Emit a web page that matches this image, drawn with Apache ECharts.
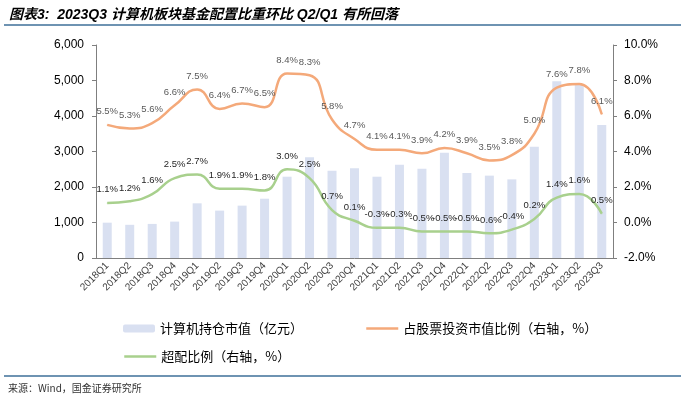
<!DOCTYPE html>
<html>
<head>
<meta charset="utf-8">
<script src="https://cdn.jsdelivr.net/npm/echarts@6/dist/echarts.min.js"></script>
<style>
  html, body { margin: 0; padding: 0; background: #fff; }
  #main { width: 683px; height: 397px; }
</style>
</head>
<body>
<div id="main"></div>
<script>
// 季度
var quarters = ['2018Q1','2018Q2','2018Q3','2018Q4','2019Q1','2019Q2','2019Q3','2019Q4',
  '2020Q1','2020Q2','2020Q3','2020Q4','2021Q1','2021Q2','2021Q3','2021Q4',
  '2022Q1','2022Q2','2022Q3','2022Q4','2023Q1','2023Q2','2023Q3'];
// 计算机持仓市值（亿元）
var holdValue = [995, 935, 960, 1025, 1540, 1335, 1475, 1670,
  2290, 2840, 2460, 2530, 2290, 2630, 2515, 2965,
  2395, 2320, 2215, 3135, 4980, 4870, 3750];
// 占股票投资市值比例（%）
var stockRatio = [5.5, 5.3, 5.6, 6.6, 7.5, 6.4, 6.7, 6.5,
  8.4, 8.3, 5.8, 4.7, 4.1, 4.1, 3.9, 4.2,
  3.9, 3.5, 3.8, 5.0, 7.6, 7.8, 6.1];
// 超配比例（%）
var overRatio = [1.1, 1.2, 1.6, 2.5, 2.7, 1.9, 1.9, 1.8,
  3.0, 2.5, 0.7, 0.1, -0.3, -0.3, -0.5, -0.5,
  -0.5, -0.6, -0.4, 0.2, 1.4, 1.6, 0.5];
var leftTicks = [0, 6000, 1000];
var rightTicks = [-2, 10, 2];

var FONT = '"Liberation Sans", Arial, "Noto Sans CJK SC", sans-serif';
var CJK = '"Noto Sans CJK SC", sans-serif';
var chart = echarts.init(document.getElementById('main'));

var pct = function(p){ return p.value.toFixed(1) + '%'; };
var legendText = { fontSize: 13, color: '#000', fontFamily: CJK };

chart.setOption({
  animation: false,
  textStyle: { fontFamily: FONT },
  title: {
    text: '图表3:  2023Q3 计算机板块基金配置比重环比 Q2/Q1 有所回落',
    left: 4, top: 3,
    textStyle: { fontSize: 14, fontWeight: 'bold', fontStyle: 'italic', color: '#000', fontFamily: FONT }
  },
  graphic: [
    { type: 'line', shape: { x1: 4, y1: 25, x2: 681, y2: 25 }, style: { stroke: '#3e6f99', lineWidth: 1.5 } },
    { type: 'line', shape: { x1: 4, y1: 376, x2: 681, y2: 376 }, style: { stroke: '#3e6f99', lineWidth: 1.5 } },
    { type: 'text', left: 8, top: 383, style: { text: '来源：Wind，国金证券研究所', fontSize: 10, fill: '#333', fontFamily: CJK } }
  ],
  grid: { left: 96, right: 70, top: 45, bottom: 139 },
  legend: [
    { data: ['计算机持仓市值（亿元）'], left: 118, top: 317, itemWidth: 32, itemHeight: 8, textStyle: legendText },
    { data: ['占股票投资市值比例（右轴，%）'], left: 360, top: 317, itemWidth: 32, itemHeight: 8,
      itemStyle: { opacity: 0 }, lineStyle: { width: 2.5 }, textStyle: legendText },
    { data: ['超配比例（右轴，%）'], left: 118, top: 345, itemWidth: 32, itemHeight: 8,
      itemStyle: { opacity: 0 }, lineStyle: { width: 2.5 }, textStyle: legendText }
  ],
  xAxis: {
    type: 'category',
    data: quarters,
    axisLine: { lineStyle: { color: '#7f7f7f' } },
    axisTick: { show: false },
    axisLabel: { interval: 0, rotate: 45, fontSize: 10, color: '#404040', margin: 6 }
  },
  yAxis: [
    {
      type: 'value', min: leftTicks[0], max: leftTicks[1], interval: leftTicks[2],
      splitLine: { show: false },
      axisLine: { show: true, lineStyle: { color: '#7f7f7f' } },
      axisTick: { show: true, length: 4, lineStyle: { color: '#7f7f7f' } },
      axisLabel: { fontSize: 12, color: '#000', margin: 12,
        formatter: function(v){ return v.toLocaleString('en-US'); } }
    },
    {
      type: 'value', min: rightTicks[0], max: rightTicks[1], interval: rightTicks[2],
      splitLine: { show: false },
      axisLine: { show: true, lineStyle: { color: '#7f7f7f' } },
      axisTick: { show: true, length: 4, lineStyle: { color: '#7f7f7f' } },
      axisLabel: { fontSize: 12, color: '#000', margin: 11,
        formatter: function(v){ return v.toFixed(1) + '%'; } }
    }
  ],
  series: [
    {
      name: '计算机持仓市值（亿元）',
      type: 'bar',
      data: holdValue,
      barWidth: 9,
      itemStyle: { color: '#d9e0f1' }
    },
    {
      name: '占股票投资市值比例（右轴，%）',
      type: 'line',
      yAxisIndex: 1,
      data: stockRatio,
      smooth: 0.5,
      symbol: 'circle', symbolSize: 1,
      lineStyle: { color: '#f4a97a', width: 2.5 },
      itemStyle: { color: '#f4a97a' },
      label: { show: true, position: 'top', distance: 8, fontSize: 9.5, color: '#595959', formatter: pct }
    },
    {
      name: '超配比例（右轴，%）',
      type: 'line',
      yAxisIndex: 1,
      data: overRatio,
      smooth: 0.5,
      symbol: 'circle', symbolSize: 1,
      lineStyle: { color: '#a8d08d', width: 2.5 },
      itemStyle: { color: '#a8d08d' },
      label: { show: true, position: 'top', distance: 8, fontSize: 9.5, color: '#262626', formatter: pct }
    }
  ]
});
</script>
</body>
</html>
